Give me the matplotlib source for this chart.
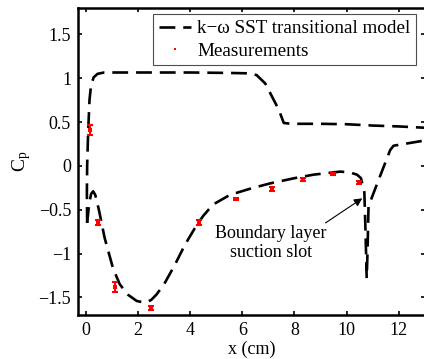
import matplotlib
matplotlib.use('Agg')
import matplotlib.pyplot as plt
import numpy as np

# CFD curve, pressure side
upper_x = [0.05, 0.04, 0.05, 0.09, 0.14, 0.2, 0.3, 0.45, 0.7, 2.0, 4.0, 5.5, 6.3,
           6.55, 6.88, 7.14, 7.4, 7.59, 7.85, 9.0, 10.0, 11.0, 12.0, 13.0]
upper_cp = [-0.65, -0.3, 0.0, 0.4, 0.75, 0.92, 1.01, 1.05, 1.065, 1.065, 1.065, 1.06, 1.055,
            1.035, 0.94, 0.79, 0.64, 0.49, 0.48, 0.48, 0.475, 0.46, 0.45, 0.435]

# CFD curve, suction side incl. the slot
lower_x = [0.05, 0.12, 0.2, 0.28, 0.36, 0.5, 0.72, 1.04, 1.3, 1.62, 1.95, 2.26, 2.5,
           2.7, 3.0, 3.41, 3.8, 4.18, 4.5, 4.88, 5.53, 6.3, 7.06, 8.0, 8.73, 9.76,
           10.14, 10.4, 10.55, 10.68, 10.72, 10.77, 10.8, 10.84, 11.2, 11.67, 11.8, 13.0]
lower_cp = [-0.65, -0.45, -0.32, -0.29, -0.33, -0.5, -0.82, -1.165, -1.35, -1.47, -1.54, -1.56, -1.53,
            -1.47, -1.35, -1.13, -0.9, -0.71, -0.57, -0.44, -0.33, -0.26, -0.20, -0.14, -0.10, -0.065,
            -0.076, -0.1, -0.14, -0.3, -0.7, -1.28, -1.0, -0.46, -0.18, 0.18, 0.23, 0.29]

# measurements
meas_x = [0.15, 0.48, 1.1, 2.51, 4.33, 5.74, 7.13, 8.31, 9.46, 10.49]
meas_cp = [0.41, -0.645, -1.38, -1.62, -0.645, -0.376, -0.262, -0.152, -0.09, -0.19]
meas_err = [0.055, 0.03, 0.055, 0.02, 0.03, 0.015, 0.02, 0.015, 0.01, 0.015]

yticks = [-1.5, -1, -0.5, 0, 0.5, 1, 1.5]
ytick_labels = ['\u22121.5', '\u22121', '\u22120.5', '0', '0.5', '1', '1.5']
xticks = [0, 2, 4, 6, 8, 10, 12]

plt.rcParams['font.family'] = ['Liberation Serif', 'DejaVu Serif']
plt.rcParams['mathtext.fontset'] = 'custom'
plt.rcParams['mathtext.rm'] = 'Liberation Serif'
plt.rcParams['font.size'] = 13

fig = plt.figure(figsize=(4.24, 3.59), dpi=100)
ax = fig.add_axes([0.184, 0.1226, 0.818, 0.855])

line_style = dict(color='black', lw=1.9, dashes=(6, 3))
ax.plot(upper_x, upper_cp, label='k\u2212\u03c9 SST transitional model', **line_style)
ax.plot(lower_x, lower_cp, **line_style)

ax.errorbar(meas_x, meas_cp, yerr=meas_err, fmt='none', ecolor='red',
            elinewidth=1.5, capsize=2.5, capthick=1.5, zorder=4)
ax.plot(meas_x, meas_cp, 's', color='red', ms=3, mew=0, zorder=5,
        label='Measurements')

# annotation for the slot
ax.annotate('', xy=(10.6, -0.37), xytext=(9.19, -0.65),
            arrowprops=dict(arrowstyle='-|>', color='black', lw=0.8,
                            mutation_scale=12, shrinkA=0, shrinkB=0))
ax.text(7.1, -0.88, 'Boundary layer\nsuction slot', ha='center', va='center',
        linespacing=1.1)

ax.set_xlim(-0.3, 13)
ax.set_ylim(-1.7, 1.8)
ax.set_xticks(xticks)
ax.set_yticks(yticks)
ax.set_yticklabels(ytick_labels)
ax.tick_params(direction='in', top=True, right=True, length=3, width=1.2, pad=5)

for side in ['left', 'bottom', 'top']:
    ax.spines[side].set_linewidth(1.8)
ax.spines['right'].set_visible(False)

ax.set_xlabel('x (cm)', labelpad=1)
ax.set_ylabel(r'$\mathregular{C_p}$', fontsize=14, labelpad=4)

leg = ax.legend(loc='upper right', bbox_to_anchor=(0.975, 0.98), borderaxespad=0,
                fancybox=False, framealpha=1, edgecolor='0.3', markerscale=0.7,
                handlelength=1.7, handletextpad=0.3, borderpad=0.3,
                labelspacing=0.25, fontsize=13.8)
leg.get_frame().set_linewidth(0.8)

fig.savefig('out.png', dpi=100)
